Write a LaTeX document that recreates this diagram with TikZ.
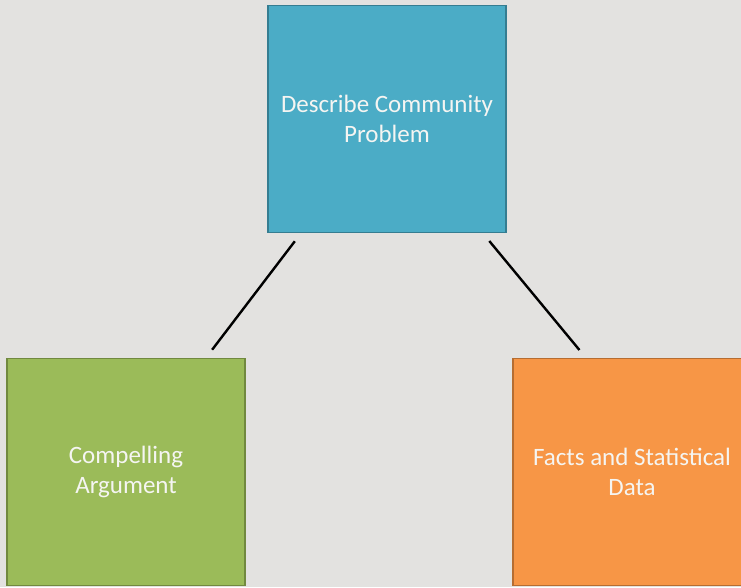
\documentclass[tikz,border=0pt]{standalone}
\usepackage{fontspec}
\setmainfont{Carlito}
\usepackage{tikz}
\usetikzlibrary{positioning}
\usepackage{xcolor}
\definecolor{bgstone}{RGB}{227,226,224}
\definecolor{probblue}{RGB}{75,172,198}
\definecolor{probblueedge}{RGB}{53,125,145}
\definecolor{arggreen}{RGB}{155,187,89}
\definecolor{arggreenedge}{RGB}{113,137,63}
\definecolor{factorange}{RGB}{247,150,70}
\definecolor{factorangeedge}{RGB}{182,109,49}
\definecolor{labelwhite}{RGB}{245,245,242}
\tikzstyle{block} = [rectangle, minimum width=238pt, minimum height=227pt, align=center, text=labelwhite, line width=1.6pt, font=\fontsize{25}{30.5}\selectfont]
\tikzstyle{link} = [line width=2.4pt, shorten <=10pt, shorten >=10pt]

\begin{document}
\begin{tikzpicture}[x=1pt, y=-1pt]
% Background
\fill[bgstone] (0,0) rectangle (741,587);
\useasboundingbox (0,0) rectangle (741,587);
\clip (0,0) rectangle (741,587);
% Boxes
\node (problem) [block, draw=probblueedge, fill=probblue] at (387,119) {Describe Community\\Problem};
\node (argument) [block, draw=arggreenedge, fill=arggreen] at (126,472) {Compelling\\Argument};
\node (facts) [block, draw=factorangeedge, fill=factorange] at (632,472) {Facts and Statistical\\Data};
% Links
\draw[link] (problem.233) -- (argument.55);
\draw[link] (problem.310) -- (facts.112);
\end{tikzpicture}
\end{document}
